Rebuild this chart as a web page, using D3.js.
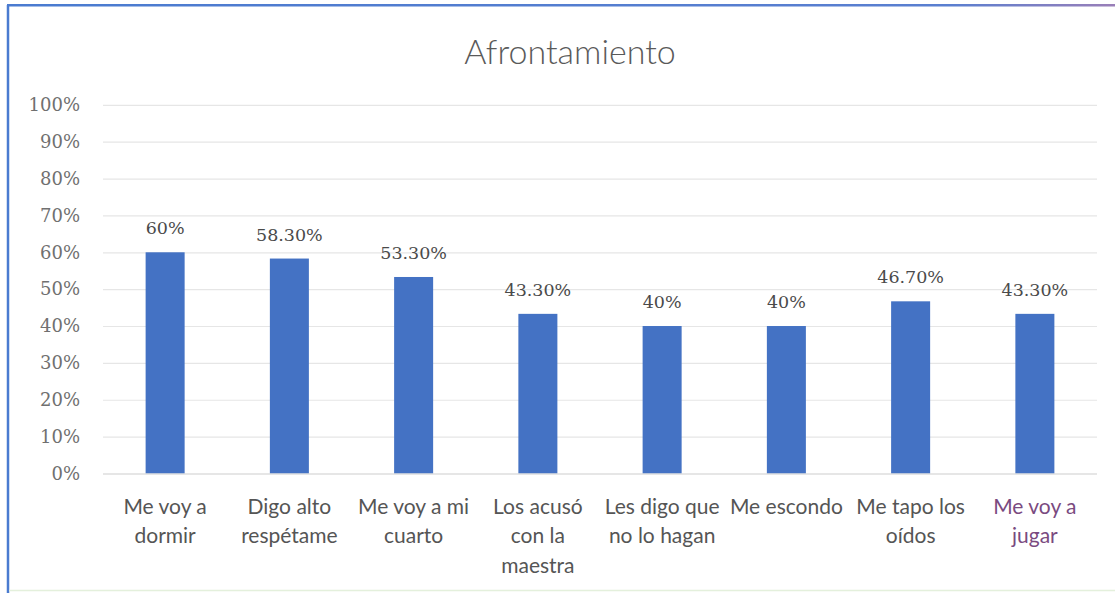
<!DOCTYPE html>
<html>
<head>
<meta charset="utf-8">
<script src="https://cdn.jsdelivr.net/npm/d3@7"></script>
<style>
  html, body { margin: 0; padding: 0; background: #fff; }
  svg { display: block; }
</style>
</head>
<body>
<svg id="chart" width="1115" height="593"></svg>
<script>
// Coping strategies: share of children choosing each response
const categories = [
  "Me voy a\ndormir",
  "Digo alto\nrespétame",
  "Me voy a mi\ncuarto",
  "Los acusó\ncon la\nmaestra",
  "Les digo que\nno lo hagan",
  "Me escondo",
  "Me tapo los\noídos",
  "Me voy a\njugar"
];
const values = [0.60, 0.583, 0.533, 0.433, 0.40, 0.40, 0.467, 0.433];
const valueLabels = ["60%", "58.30%", "53.30%", "43.30%", "40%", "40%", "46.70%", "43.30%"];
const yTicks = [0, 0.1, 0.2, 0.3, 0.4, 0.5, 0.6, 0.7, 0.8, 0.9, 1.0];
const title = "Afrontamiento";

const svg = d3.select("#chart");
const W = 1115, H = 593;
const plot = { left: 103, right: 1097, top: 104.8, bottom: 473.5 };

// frame of the chart area
svg.append("line").attr("x1", 8).attr("x2", 8).attr("y1", 5).attr("y2", H)
  .attr("stroke", "#4a7bd0").attr("stroke-width", 2.5);
const topGrad = svg.append("defs").append("linearGradient").attr("id", "topEdge");
topGrad.append("stop").attr("offset", "0%").attr("stop-color", "#4a7bd0");
topGrad.append("stop").attr("offset", "85%").attr("stop-color", "#5a7fd0");
topGrad.append("stop").attr("offset", "100%").attr("stop-color", "#9a7fb8");
svg.append("rect").attr("x", 7).attr("y", 4).attr("width", W - 7).attr("height", 2.5)
  .attr("fill", "url(#topEdge)");
svg.append("line").attr("x1", 9).attr("x2", W).attr("y1", 590.5).attr("y2", 590.5)
  .attr("stroke", "#e4f0dc").attr("stroke-width", 1.5);

const x = d3.scaleBand()
  .domain(categories)
  .range([plot.left, plot.right])
  .paddingInner(0.686)
  .paddingOuter(0.343);

const y = d3.scaleLinear().domain([0, 1]).range([plot.bottom, plot.top]);

// gridlines
const grid = d3.axisLeft(y).tickValues(yTicks)
  .tickSize(-(plot.right - plot.left)).tickFormat("");
svg.append("g").attr("transform", `translate(${plot.left},0)`).call(grid)
  .call(g => g.select(".domain").remove())
  .call(g => g.selectAll(".tick line").attr("stroke", "#e6e6e6").attr("stroke-width", 1.2));

// y tick labels
const yAxis = d3.axisLeft(y).tickValues(yTicks).tickSize(0).tickPadding(0)
  .tickFormat(d3.format(".0%"));
svg.append("g").attr("transform", "translate(80,0)").call(yAxis)
  .call(g => g.select(".domain").remove())
  .call(g => g.selectAll("text")
    .attr("font-family", "'DejaVu Serif', serif")
    .attr("font-size", 18)
    .attr("fill", "#707070"));

// bars
svg.append("g").selectAll("rect").data(values).join("rect")
  .attr("x", (d, i) => x(categories[i]))
  .attr("width", x.bandwidth())
  .attr("y", d => y(d))
  .attr("height", d => y(0) - y(d))
  .attr("fill", "#4472c4");

// baseline
svg.append("line").attr("x1", plot.left).attr("x2", plot.right)
  .attr("y1", y(0) + 0.5).attr("y2", y(0) + 0.5)
  .attr("stroke", "#d9d9d9").attr("stroke-width", 1.2);

// value labels
svg.append("g").selectAll("text").data(values).join("text")
  .attr("x", (d, i) => x(categories[i]) + x.bandwidth() / 2)
  .attr("y", d => y(d) - 18)
  .attr("text-anchor", "middle")
  .attr("font-family", "'DejaVu Serif', serif")
  .attr("font-size", 17.5)
  .attr("fill", "#4a4a4a")
  .text((d, i) => valueLabels[i]);

// category labels
const xAxis = d3.axisBottom(x).tickSize(0).tickFormat("");
const xg = svg.append("g").attr("transform", `translate(0,${plot.bottom})`).call(xAxis);
xg.select(".domain").remove();
xg.selectAll(".tick").each(function(d, i) {
  const t = d3.select(this).append("text")
    .attr("text-anchor", "middle")
    .attr("font-family", "Lato, sans-serif")
    .attr("font-size", 21)
    .attr("fill", i === categories.length - 1 ? "#7a4a80" : "#555555");
  d.split("\n").forEach((line, k) => {
    t.append("tspan").attr("x", 0).attr("y", 40 + k * 29.5).text(line);
  });
});

// title
svg.append("text")
  .attr("x", 570).attr("y", 64)
  .attr("text-anchor", "middle")
  .attr("font-family", "Lato, sans-serif")
  .attr("font-weight", 300)
  .attr("font-size", 34)
  .attr("fill", "#5a5a5a")
  .text(title);
</script>
</body>
</html>
